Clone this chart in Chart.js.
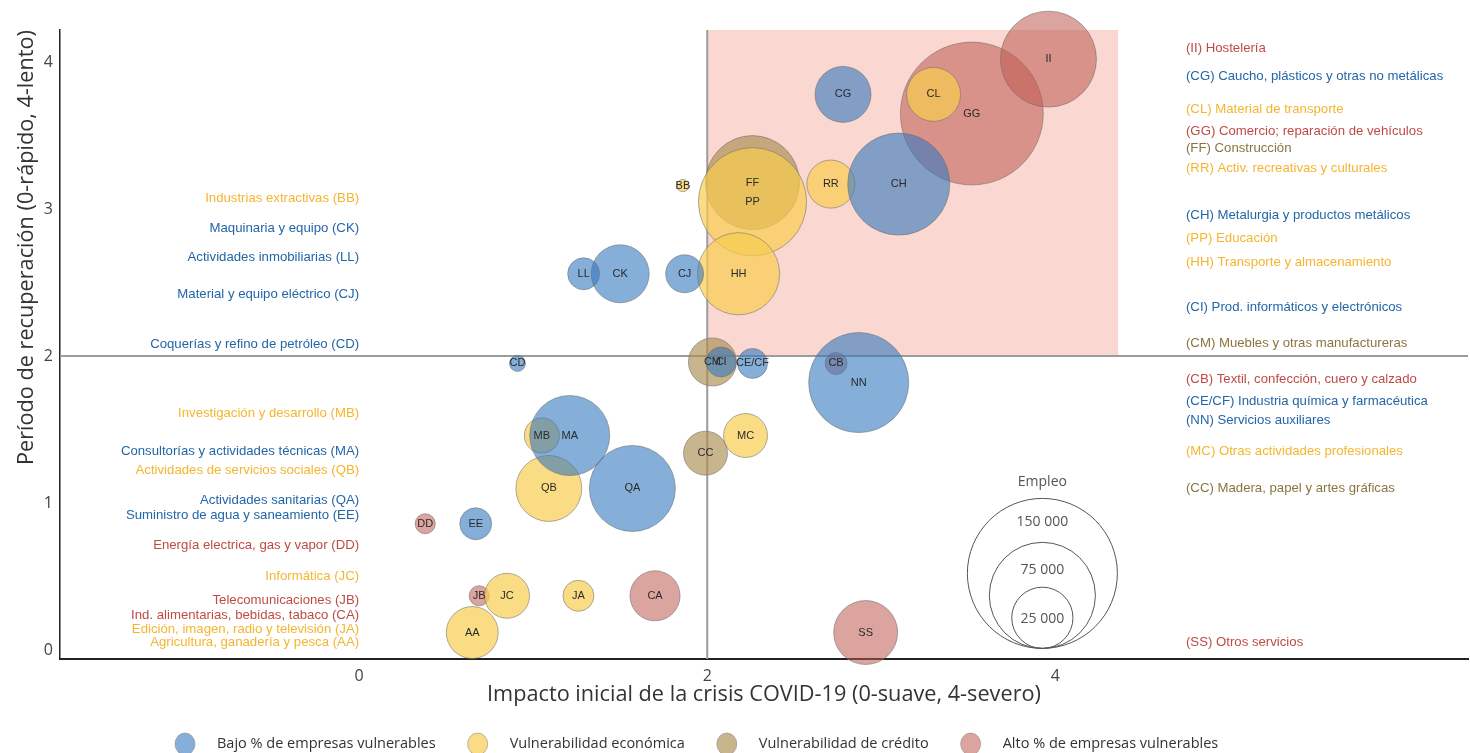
<!DOCTYPE html>
<html lang="es">
<head>
<meta charset="utf-8">
<title>Impacto de la crisis COVID-19 por sectores</title>
<script src="https://cdn.jsdelivr.net/npm/chart.js@4.4.1/dist/chart.umd.min.js"></script>
<style>
  html, body { margin: 0; padding: 0; background: #fff; }
</style>
</head>
<body>
<canvas id="chart" width="1470" height="753"></canvas>
<script>
// categorias de vulnerabilidad (leyenda)
const categorias = ["Bajo % de empresas vulnerables", "Vulnerabilidad económica", "Vulnerabilidad de crédito", "Alto % de empresas vulnerables"];

// x = impacto inicial, y = periodo de recuperacion, empleo = tamaño de la burbuja
const bajoCodigos = ["CK", "LL", "CJ", "CD", "CI", "CE/CF", "NN", "MA", "QA", "EE", "CG", "CH"];
const bajoImpacto = [1.50, 1.29, 1.87, 0.91, 2.08, 2.26, 2.87, 1.21, 1.57, 0.67, 2.78, 3.10];
const bajoRecuperacion = [2.56, 2.56, 2.56, 1.95, 1.96, 1.95, 1.82, 1.46, 1.10, 0.86, 3.78, 3.17];
const bajoEmpleo = [22400, 6800, 9600, 1700, 6000, 6000, 66700, 42700, 49300, 6800, 20900, 69400];

const economicaCodigos = ["BB", "PP", "HH", "MB", "QB", "JC", "JA", "AA", "MC", "CL", "RR"];
const economicaImpacto = [1.86, 2.26, 2.18, 1.05, 1.09, 0.85, 1.26, 0.65, 2.22, 3.30, 2.71];
const economicaRecuperacion = [3.16, 3.05, 2.56, 1.46, 1.10, 0.37, 0.37, 0.12, 1.46, 3.78, 3.17];
const economicaEmpleo = [1000, 78000, 45000, 8200, 29000, 13500, 6400, 18000, 12900, 19400, 15400];

const creditoCodigos = ["FF", "CM", "CC"];
const creditoImpacto = [2.26, 2.03, 1.99];
const creditoRecuperacion = [3.18, 1.96, 1.34];
const creditoEmpleo = [58900, 15400, 12900];

const altoCodigos = ["CB", "DD", "JB", "CA", "GG", "II", "SS"];
const altoImpacto = [2.74, 0.38, 0.69, 1.70, 3.52, 3.96, 2.91];
const altoRecuperacion = [1.95, 0.86, 0.37, 0.37, 3.65, 4.02, 0.12];
const altoEmpleo = [3200, 2700, 2700, 16700, 136000, 61400, 27300];

const xTicks = [0, 2, 4];
const yTicks = [0, 1, 2, 3, 4];
const empleoLeyenda = [150000, 75000, 25000];

// nombres de sector a la izquierda (categoria, texto, altura en escala y)
const izqCategoria = [1, 0, 0, 0, 0, 1, 0, 1, 0, 0, 3, 1, 3, 3, 1, 1];
const izqTexto = [
  "Industrias extractivas (BB)", "Maquinaria y equipo (CK)", "Actividades inmobiliarias (LL)",
  "Material y equipo eléctrico (CJ)", "Coquerías y refino de petróleo (CD)", "Investigación y desarrollo (MB)",
  "Consultorías y actividades técnicas (MA)", "Actividades de servicios sociales (QB)", "Actividades sanitarias (QA)",
  "Suministro de agua y saneamiento (EE)", "Energía electrica, gas y vapor (DD)", "Informática (JC)",
  "Telecomunicaciones (JB)", "Ind. alimentarias, bebidas, tabaco (CA)", "Edición, imagen, radio y televisión (JA)",
  "Agricultura, ganadería y pesca (AA)"
];
const izqY = [3.07, 2.87, 2.67, 2.42, 2.08, 1.61, 1.35, 1.22, 1.02, 0.92, 0.71, 0.50, 0.34, 0.24, 0.14, 0.05];

// nombres de sector a la derecha
const derCategoria = [3, 0, 1, 3, 2, 1, 0, 1, 1, 0, 2, 3, 0, 0, 1, 2, 3];
const derTexto = [
  "(II) Hostelería", "(CG) Caucho, plásticos y otras no metálicas", "(CL) Material de transporte",
  "(GG) Comercio; reparación de vehículos", "(FF) Construcción", "(RR) Activ. recreativas y culturales",
  "(CH) Metalurgia y productos metálicos", "(PP) Educación", "(HH) Transporte y almacenamiento",
  "(CI) Prod. informáticos y electrónicos", "(CM) Muebles y otras manufactureras",
  "(CB) Textil, confección, cuero y calzado", "(CE/CF) Industria química y farmacéutica",
  "(NN) Servicios auxiliares", "(MC) Otras actividades profesionales", "(CC) Madera, papel y artes gráficas",
  "(SS) Otros servicios"
];
const derY = [4.09, 3.90, 3.68, 3.53, 3.41, 3.28, 2.96, 2.80, 2.64, 2.33, 2.09, 1.84, 1.69, 1.56, 1.35, 1.10, 0.05];

const rellenos = ["rgba(52,120,190,0.6)", "rgba(248,205,80,0.7)", "rgba(170,140,80,0.65)", "rgba(190,90,80,0.55)"];
const textos = ["#2366a8", "#f5b530", "#8a7540", "#bf4a45"];

const RADIO_MAX = 75; // radio en px para 150 000 empleos
function radio(empleo) {
  return RADIO_MAX * Math.sqrt(empleo / 150000);
}

function puntos(codigos, xs, ys, empleo) {
  return codigos.map((c, i) => ({ x: xs[i], y: ys[i], r: radio(empleo[i]), codigo: c }));
}

const grupos = [
  puntos(bajoCodigos, bajoImpacto, bajoRecuperacion, bajoEmpleo),
  puntos(economicaCodigos, economicaImpacto, economicaRecuperacion, economicaEmpleo),
  puntos(creditoCodigos, creditoImpacto, creditoRecuperacion, creditoEmpleo),
  puntos(altoCodigos, altoImpacto, altoRecuperacion, altoEmpleo)
];

const anotaciones = {
  id: "anotaciones",
  beforeDatasetsDraw(chart) {
    const { ctx, chartArea: a, scales: { x, y } } = chart;
    const x2 = x.getPixelForValue(2);
    const y2 = y.getPixelForValue(2);
    ctx.save();
    ctx.fillStyle = "rgba(240,140,120,0.35)";
    ctx.fillRect(x2, a.top, x.getPixelForValue(4.36) - x2, y2 - a.top);
    ctx.strokeStyle = "#9c9c9c";
    ctx.lineWidth = 2;
    ctx.beginPath();
    ctx.moveTo(x2, a.top);
    ctx.lineTo(x2, a.bottom);
    ctx.moveTo(a.left, y2);
    ctx.lineTo(a.right, y2);
    ctx.stroke();
    ctx.restore();
  },
  afterDatasetsDraw(chart) {
    const { ctx, scales: { x, y } } = chart;
    ctx.save();

    // codigos sobre cada burbuja
    ctx.font = "11px 'Liberation Sans', Arial, sans-serif";
    ctx.fillStyle = "#2a2a2a";
    ctx.textAlign = "center";
    ctx.textBaseline = "middle";
    chart.data.datasets.forEach((ds, i) => {
      chart.getDatasetMeta(i).data.forEach((el, j) => {
        ctx.fillText(ds.data[j].codigo, el.x, el.y);
      });
    });

    // nombres de los sectores
    ctx.font = "13.2px 'Liberation Sans', Arial, sans-serif";
    ctx.textAlign = "right";
    izqTexto.forEach((t, i) => {
      ctx.fillStyle = textos[izqCategoria[i]];
      ctx.fillText(t, x.getPixelForValue(0), y.getPixelForValue(izqY[i]));
    });
    ctx.textAlign = "left";
    derTexto.forEach((t, i) => {
      ctx.fillStyle = textos[derCategoria[i]];
      ctx.fillText(t, x.getPixelForValue(4.75), y.getPixelForValue(derY[i]));
    });

    // leyenda de tamaño
    const cx = x.getPixelForValue(3.925);
    const base = y.getPixelForValue(0.012);
    ctx.strokeStyle = "#555";
    ctx.lineWidth = 1;
    ctx.fillStyle = "#555";
    ctx.font = "14px 'Open Sans', sans-serif";
    ctx.textAlign = "center";
    empleoLeyenda.forEach((v, i) => {
      const r = radio(v);
      ctx.beginPath();
      ctx.arc(cx, base - r, r, 0, Math.PI * 2);
      ctx.stroke();
      const top = base - 2 * r;
      ctx.fillText(v.toLocaleString("fr-FR").replace(/\s/g, " "), cx, top + 24 + 0.18 * (RADIO_MAX - r));
      if (i === 0) ctx.fillText("Empleo", cx, top - 16);
    });
    ctx.restore();
  },
  afterDraw(chart) {
    // leyenda de categorias, en una fila bajo el eje
    const { ctx } = chart;
    const fila = chart.height - 9;
    let px = 185;
    ctx.save();
    ctx.font = "14.5px 'Open Sans', sans-serif";
    ctx.textAlign = "left";
    ctx.textBaseline = "middle";
    chart.data.datasets.forEach(ds => {
      ctx.beginPath();
      ctx.ellipse(px, fila, 10, 11, 0, 0, Math.PI * 2);
      ctx.fillStyle = ds.backgroundColor;
      ctx.fill();
      ctx.strokeStyle = "rgba(140,140,140,0.6)";
      ctx.lineWidth = 1;
      ctx.stroke();
      ctx.fillStyle = "#333";
      ctx.fillText(ds.label, px + 32, fila);
      px += 32 + ctx.measureText(ds.label).width + 42;
    });
    ctx.restore();
  }
};

new Chart(document.getElementById("chart"), {
  type: "bubble",
  data: {
    datasets: categorias.map((nombre, i) => ({
      label: nombre,
      data: grupos[i],
      backgroundColor: rellenos[i],
      borderColor: "rgba(110,110,110,0.55)",
      borderWidth: 1,
      hoverBorderWidth: 1,
      clip: false
    }))
  },
  options: {
    responsive: false,
    animation: false,
    devicePixelRatio: 1,
    layout: { autoPadding: false, padding: { top: 30, right: 2, left: 0, bottom: 34 } },
    plugins: {
      tooltip: { enabled: false },
      legend: { display: false }
    },
    scales: {
      x: {
        min: -1.718,
        max: 6.37,
        afterBuildTicks: s => { s.ticks = xTicks.map(v => ({ value: v })); },
        afterFit: s => { s.height = 60; },
        grid: { display: false, drawTicks: false },
        border: { display: true, color: "#222", width: 2 },
        ticks: { padding: 8, color: "#444", font: { family: "'Open Sans', sans-serif", size: 16 } },
        title: {
          display: true,
          text: "Impacto inicial de la crisis COVID-19 (0-suave, 4-severo)",
          color: "#333",
          padding: { top: 0, bottom: 11 },
          font: { family: "'Open Sans', sans-serif", size: 21.7 }
        }
      },
      y: {
        min: -0.06,
        max: 4.218,
        afterBuildTicks: s => { s.ticks = yTicks.map(v => ({ value: v })); },
        afterFit: s => { s.width = 60; },
        grid: { display: false, drawTicks: false },
        border: { display: true, color: "#222", width: 1.5 },
        ticks: { padding: 7, color: "#444", font: { family: "'Open Sans', sans-serif", size: 16 } },
        title: {
          display: true,
          text: "Período de recuperación (0-rápido, 4-lento)",
          align: "end",
          color: "#333",
          padding: { top: 14, bottom: 0 },
          font: { family: "'Open Sans', sans-serif", size: 21.7 }
        }
      }
    }
  },
  plugins: [anotaciones]
});
</script>
</body>
</html>
